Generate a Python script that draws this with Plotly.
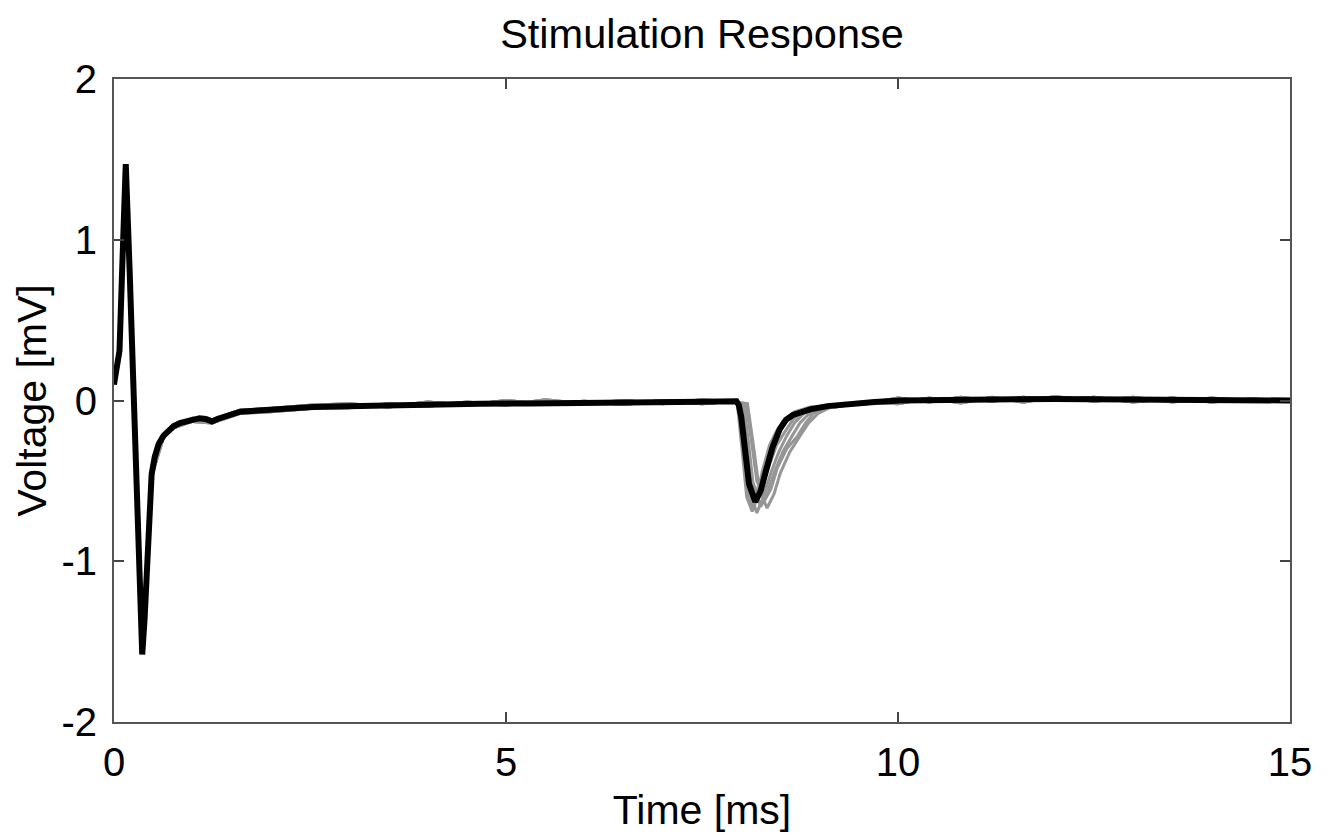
import plotly.graph_objects as go

# ---------------- data ----------------
# black (mean) trace, early segment: stimulus artifact + decay
t_early = [0.00, 0.04, 0.07, 0.11, 0.15, 0.20, 0.24, 0.30, 0.36, 0.39, 0.44, 0.48, 0.52,
           0.57, 0.63, 0.70, 0.76, 0.84, 0.92, 1.00, 1.09, 1.17, 1.25, 1.32, 1.40, 1.50,
           1.61, 1.75, 1.88, 2.10, 2.30, 2.54, 2.80, 3.10, 3.50, 4.00, 4.67, 5.30,
           6.00, 6.50, 7.00, 7.50, 7.94]
v_early = [0.10, 0.22, 0.31, 0.90, 1.47, 0.80, 0.20, -0.70, -1.58, -1.36, -0.85, -0.46, -0.35,
           -0.27, -0.22, -0.18, -0.16, -0.14, -0.13, -0.12, -0.11, -0.115, -0.13, -0.115, -0.10, -0.085,
           -0.07, -0.065, -0.06, -0.055, -0.05, -0.04, -0.037, -0.033, -0.03, -0.025, -0.02, -0.018,
           -0.012, -0.012, -0.01, -0.008, -0.005]

# black trace, second response (dip near 8 ms)
t_dip = [7.97, 8.00, 8.05, 8.10, 8.18, 8.25, 8.32, 8.40, 8.49, 8.57, 8.66, 8.77, 8.88, 9.10, 9.39]
v_dip = [-0.03, -0.10, -0.33, -0.52, -0.63, -0.56, -0.43, -0.29, -0.18, -0.12, -0.09, -0.07, -0.055, -0.035, -0.02]

# tail back to baseline
t_late = [9.70, 10.03, 10.50, 11.00, 11.50, 12.00, 12.50, 13.00, 13.50, 14.00, 14.50, 15.00]
v_late = [-0.01, 0.00, 0.005, 0.005, 0.008, 0.01, 0.008, 0.005, 0.005, 0.002, 0.0, 0.0]

# grey individual sweeps: noisy baselines (shared shapes) and individual dips
t_base_a = [0.00, 0.07, 0.15, 0.24, 0.36, 0.48, 0.63, 0.76, 1.00, 1.25, 1.61, 2.00, 2.50, 3.00,
            3.50, 4.00, 4.50, 5.00, 5.50, 6.00, 6.50, 7.00, 7.50, 7.90]
v_base_a = [0.10, 0.31, 1.45, 0.20, -1.56, -0.45, -0.21, -0.15, -0.11, -0.12, -0.06, -0.05, -0.03, -0.02,
            -0.04, -0.01, -0.03, 0.00, -0.02, -0.005, -0.025, 0.0, -0.02, -0.005]
v_base_b = [0.10, 0.31, 1.45, 0.20, -1.56, -0.47, -0.23, -0.17, -0.13, -0.14, -0.08, -0.07, -0.05, -0.045,
            -0.02, -0.035, -0.01, -0.03, 0.005, -0.02, 0.0, -0.02, 0.005, -0.01]

t_tail_a = [9.20, 9.60, 10.00, 10.40, 10.80, 11.20, 11.60, 12.00, 12.50, 13.00, 13.50, 14.00, 14.50, 15.00]
v_tail_a = [-0.03, -0.02, 0.015, -0.01, 0.02, -0.005, 0.02, 0.0, 0.02, -0.01, 0.015, -0.01, 0.01, 0.0]
v_tail_b = [-0.04, -0.01, -0.02, 0.015, -0.015, 0.02, -0.01, 0.025, -0.005, 0.02, -0.01, 0.015, -0.005, 0.005]

grey_dips = [
    ([7.96, 8.02, 8.08, 8.15, 8.22, 8.30, 8.40, 8.48, 8.58, 8.70, 8.90],
     [-0.02, -0.25, -0.55, -0.68, -0.58, -0.40, -0.27, -0.20, -0.13, -0.08, -0.04]),
    ([8.00, 8.06, 8.12, 8.20, 8.28, 8.38, 8.48, 8.58, 8.68, 8.80, 9.00],
     [-0.02, -0.28, -0.58, -0.70, -0.60, -0.45, -0.32, -0.22, -0.14, -0.08, -0.04]),
    ([8.03, 8.09, 8.16, 8.25, 8.33, 8.42, 8.53, 8.65, 8.75, 8.85, 9.05],
     [-0.02, -0.25, -0.55, -0.66, -0.58, -0.45, -0.32, -0.22, -0.14, -0.09, -0.04]),
    ([8.06, 8.13, 8.20, 8.30, 8.38, 8.46, 8.58, 8.72, 8.82, 8.92, 9.10],
     [-0.02, -0.25, -0.50, -0.62, -0.55, -0.42, -0.30, -0.22, -0.14, -0.08, -0.04]),
    ([7.98, 8.04, 8.11, 8.22, 8.29, 8.36, 8.45, 8.55, 8.66, 8.78, 8.95],
     [-0.02, -0.22, -0.48, -0.58, -0.50, -0.40, -0.28, -0.20, -0.12, -0.07, -0.04]),
    ([8.08, 8.15, 8.23, 8.33, 8.42, 8.50, 8.62, 8.75, 8.86, 8.98, 9.15],
     [-0.02, -0.26, -0.55, -0.67, -0.58, -0.45, -0.32, -0.22, -0.14, -0.08, -0.04]),
    ([7.95, 8.01, 8.07, 8.14, 8.20, 8.27, 8.36, 8.45, 8.55, 8.68, 8.88],
     [-0.02, -0.30, -0.60, -0.69, -0.60, -0.44, -0.28, -0.19, -0.12, -0.07, -0.04]),
]

x_ticks = [0, 5, 10, 15]
y_ticks = [-2, -1, 0, 1, 2]
y_tick_text = ["-2", "-1", "0", "1", "2"]

# ---------------- figure ----------------
fig = go.Figure()

for i, (td, vd) in enumerate(grey_dips):
    vb = v_base_a if i % 2 == 0 else v_base_b
    vt = v_tail_a if i % 2 == 0 else v_tail_b
    fig.add_trace(go.Scatter(
        x=t_base_a + td + t_tail_a,
        y=vb + vd + vt,
        mode="lines",
        line=dict(color="#969696", width=3),
        hoverinfo="skip",
        showlegend=False,
    ))

fig.add_trace(go.Scatter(
    x=t_early + t_dip + t_late,
    y=v_early + v_dip + v_late,
    mode="lines",
    line=dict(color="#000000", width=6),
    showlegend=False,
))

FONT = "Liberation Sans, Arial, Helvetica, sans-serif"

fig.update_layout(
    width=1331, height=840,
    margin=dict(l=114, r=41, t=79, b=118),
    paper_bgcolor="white", plot_bgcolor="white",
    font=dict(family=FONT, size=40, color="black"),
    title=dict(text="Stimulation Response", x=0.5, xref="paper", xanchor="center",
               y=1 - 33 / 840, yref="container", yanchor="middle",
               font=dict(family=FONT, size=41.5, color="black")),
    showlegend=False,
)

fig.update_xaxes(
    range=[0, 15], tickvals=x_ticks, ticktext=[str(v) for v in x_ticks],
    ticks="inside", ticklen=10, tickwidth=1.5, tickcolor="#444",
    showline=True, linecolor="#555", linewidth=2, mirror="ticks",
    showgrid=False, zeroline=False,
    tickfont=dict(size=40), ticklabelstandoff=4,
    title=dict(text="Time [ms]", font=dict(size=41), standoff=12),
)
fig.update_yaxes(
    range=[-2, 2], tickvals=y_ticks, ticktext=y_tick_text,
    ticks="inside", ticklen=10, tickwidth=1.5, tickcolor="#444",
    showline=True, linecolor="#555", linewidth=2, mirror="ticks",
    showgrid=False, zeroline=False,
    tickfont=dict(size=40), ticklabelstandoff=7,
    title=dict(text="Voltage [mV]", font=dict(size=41), standoff=2),
)

fig.write_html("out.html")
